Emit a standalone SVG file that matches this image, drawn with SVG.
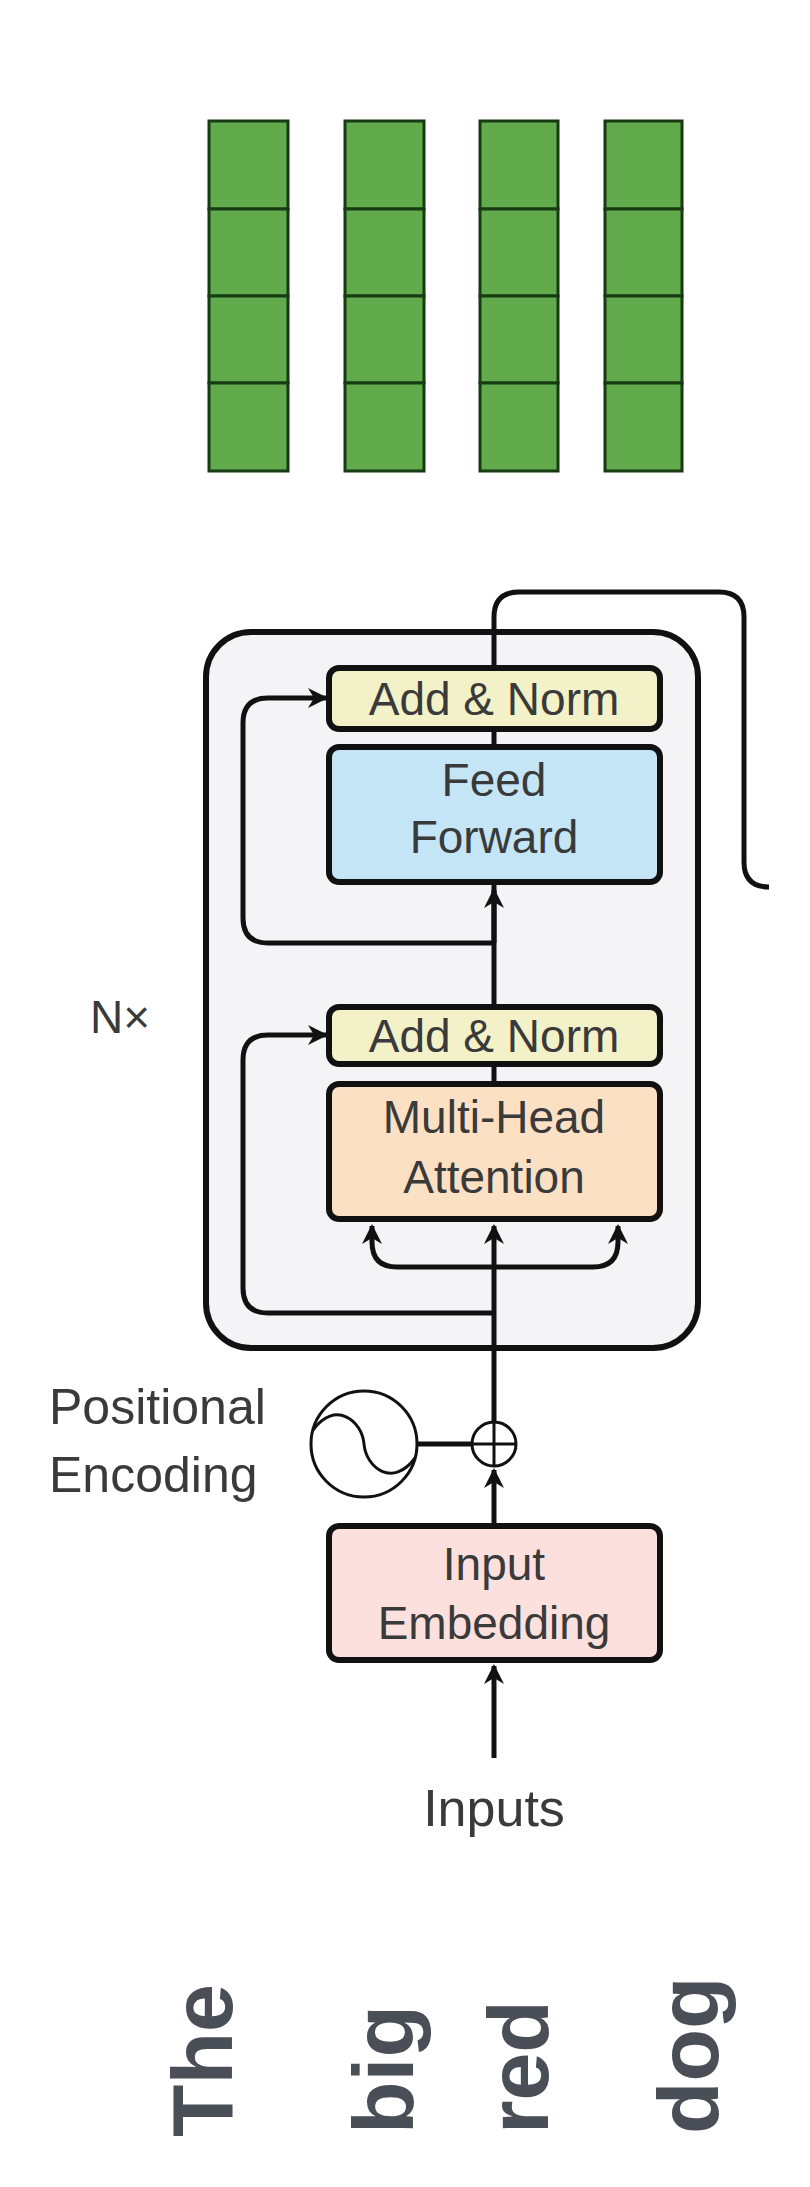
<svg xmlns="http://www.w3.org/2000/svg" width="810" height="2187" viewBox="0 0 810 2187">
<style>
.cell{fill:#62ab4c;stroke:#163a12;stroke-width:3}
.box{stroke:#111;stroke-width:6}
.t{font-family:"Liberation Sans",Arial,sans-serif;fill:#3a3a3a;font-size:46px;text-anchor:middle}
.w{font-family:"Liberation Sans",Arial,sans-serif;fill:#4a4e56;font-size:86px;font-weight:bold}
.ln{fill:none;stroke:#111;stroke-width:5}
</style>
<defs>
<marker id="ah" viewBox="0 0 10 10" refX="9" refY="5" markerWidth="4" markerHeight="4" orient="auto" markerUnits="strokeWidth"><path d="M0,0 L10,5 L0,10 L3,5 z" fill="#111"/></marker>
</defs>
<g id="vectors">
<g id="vec1"><rect class="cell" x="209" y="121" width="79" height="88"/><rect class="cell" x="209" y="209" width="79" height="87"/><rect class="cell" x="209" y="296" width="79" height="87"/><rect class="cell" x="209" y="383" width="79" height="88"/></g>
<g id="vec2"><rect class="cell" x="345" y="121" width="79" height="88"/><rect class="cell" x="345" y="209" width="79" height="87"/><rect class="cell" x="345" y="296" width="79" height="87"/><rect class="cell" x="345" y="383" width="79" height="88"/></g>
<g id="vec3"><rect class="cell" x="480" y="121" width="78" height="88"/><rect class="cell" x="480" y="209" width="78" height="87"/><rect class="cell" x="480" y="296" width="78" height="87"/><rect class="cell" x="480" y="383" width="78" height="88"/></g>
<g id="vec4"><rect class="cell" x="605" y="121" width="77" height="88"/><rect class="cell" x="605" y="209" width="77" height="87"/><rect class="cell" x="605" y="296" width="77" height="87"/><rect class="cell" x="605" y="383" width="77" height="88"/></g>
</g>
<g id="encoder"><rect x="206" y="632" width="492" height="716" rx="45" fill="#f4f4f6" stroke="#111" stroke-width="6"/></g>
<g id="connectors">
<path class="ln" d="M494,668 V617 Q494,592 519,592 H719 Q744,592 744,617 V862 Q744,887 769,887"/>
<path class="ln" d="M494,1007 V729"/>
<path class="ln" d="M494,943 V890" marker-end="url(#ah)"/>
<path class="ln" d="M494,943 H268 Q243,943 243,918 V723 Q243,698 268,698 H326" marker-end="url(#ah)"/>
<path class="ln" d="M494,1084 V1064"/>
<path class="ln" d="M494,1348 V1226" marker-end="url(#ah)"/>
<path class="ln" d="M494,1267 H397 Q372,1267 372,1242 V1226" marker-end="url(#ah)"/>
<path class="ln" d="M494,1267 H593 Q618,1267 618,1242 V1226" marker-end="url(#ah)"/>
<path class="ln" d="M494,1313 H268 Q243,1313 243,1288 V1060 Q243,1035 268,1035 H326" marker-end="url(#ah)"/>
<path class="ln" d="M494,1348 V1421"/>
<path class="ln" d="M417,1444 H471"/>
<path class="ln" d="M494,1526 V1470" marker-end="url(#ah)"/>
<path class="ln" d="M494,1758 V1666" marker-end="url(#ah)"/>
</g>
<g id="addnorm1"><rect class="box" x="329" y="668" width="331" height="61" rx="10" fill="#f3f1c8"/><text class="t" x="494" y="715">Add &amp; Norm</text></g>
<g id="ffn"><rect class="box" x="329" y="747" width="331" height="135" rx="10" fill="#c4e5f6"/><text class="t" x="494" y="796">Feed</text><text class="t" x="494" y="853">Forward</text></g>
<g id="addnorm2"><rect class="box" x="329" y="1007" width="331" height="57" rx="10" fill="#f3f1c8"/><text class="t" x="494" y="1052">Add &amp; Norm</text></g>
<g id="mha"><rect class="box" x="329" y="1084" width="331" height="135" rx="10" fill="#fce0c4"/><text class="t" x="494" y="1133">Multi-Head</text><text class="t" x="494" y="1193">Attention</text></g>
<g id="nx"><text class="t" x="90" y="1033" style="text-anchor:start">N×</text></g>
<g id="posenc">
<text class="t" x="49" y="1424" style="text-anchor:start;font-size:50px">Positional</text>
<text class="t" x="49" y="1492" style="text-anchor:start;font-size:50px">Encoding</text>
<circle cx="364" cy="1444" r="53" fill="#fff" stroke="#111" stroke-width="3"/>
<path d="M313,1430 C335,1400 362,1420 364,1444 C366,1468 393,1488 415,1458" fill="none" stroke="#111" stroke-width="3"/>
</g>
<g id="plus"><circle cx="494" cy="1444" r="22" fill="#fff" stroke="#111" stroke-width="3"/><path d="M472,1444 H516 M494,1422 V1466" stroke="#111" stroke-width="3"/></g>
<g id="embed"><rect class="box" x="329" y="1526" width="331" height="134" rx="10" fill="#fbe0dd"/><text class="t" x="494" y="1580">Input</text><text class="t" x="494" y="1639">Embedding</text></g>
<g id="inputs"><text class="t" x="494" y="1826" style="font-size:52px">Inputs</text></g>
<g id="words">
<text class="w" transform="translate(232,2137) rotate(-90)">The</text>
<text class="w" transform="translate(413,2134) rotate(-90)">big</text>
<text class="w" transform="translate(548,2134) rotate(-90)">red</text>
<text class="w" transform="translate(718,2134) rotate(-90)">dog</text>
</g>
</svg>
